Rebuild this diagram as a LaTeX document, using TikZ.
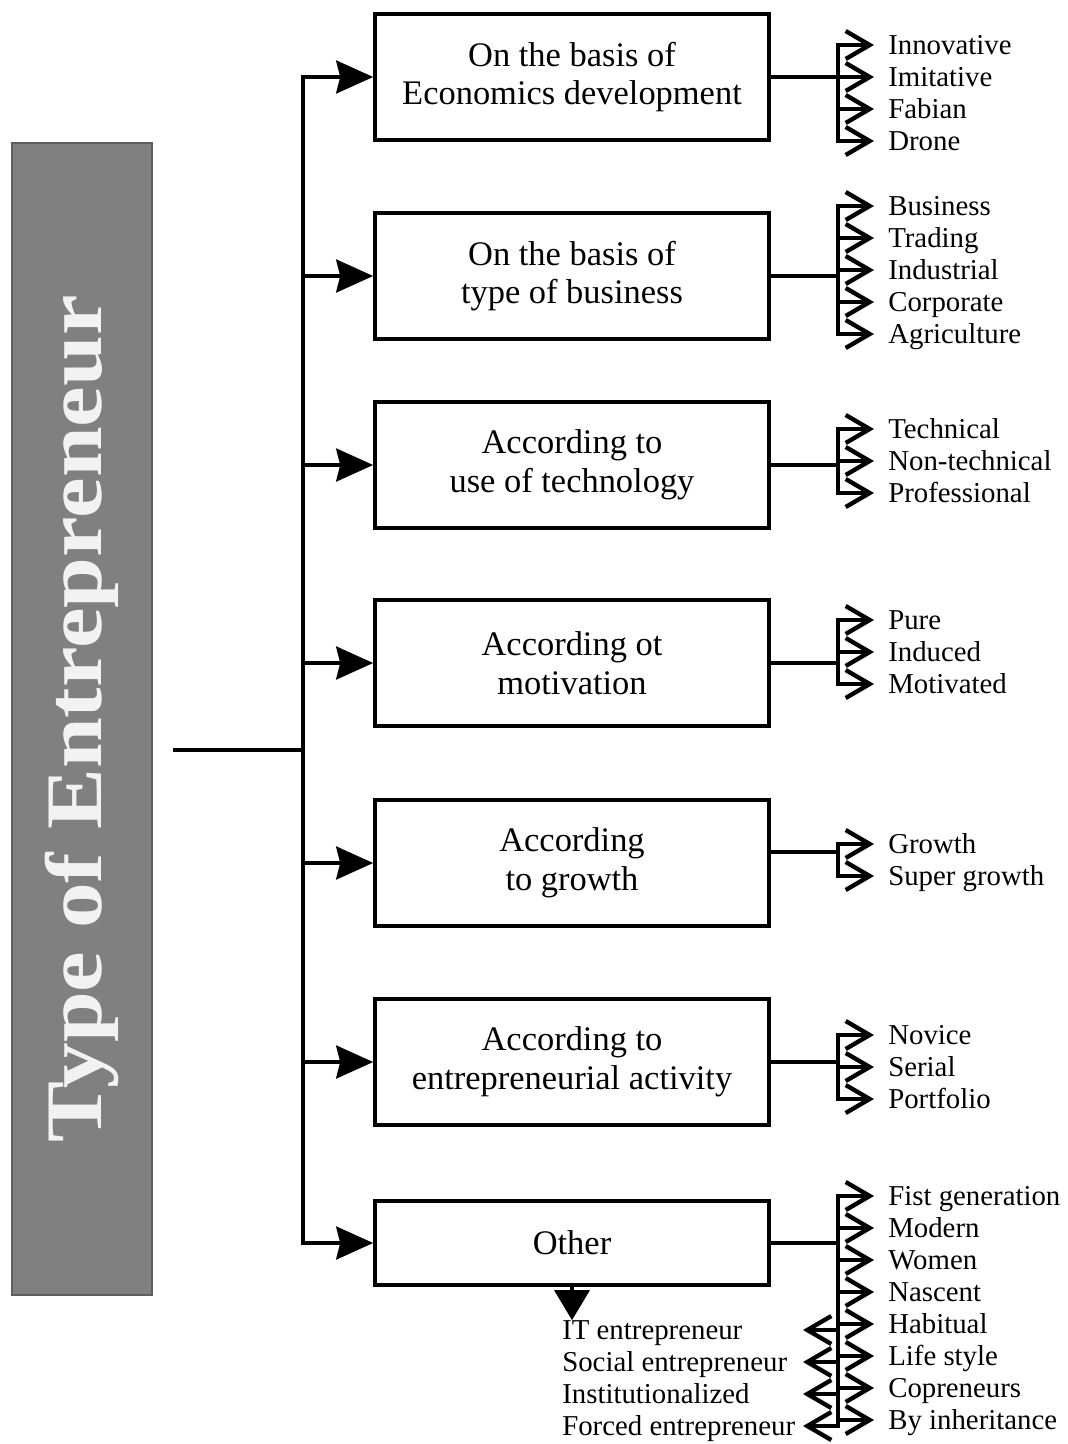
\documentclass[tikz,border=0pt]{standalone}
\usepackage{fontspec}
\setmainfont{Liberation Serif}
\usetikzlibrary{arrows.meta}
\definecolor{panel}{HTML}{808080}
\definecolor{panelrim}{HTML}{5E5E5E}

\begin{document}
\begin{tikzpicture}[x=0.25mm,y=-0.25mm,
  title/.style={rotate=90,fill=panel,draw=panelrim,line width=0.8pt,minimum width=288mm,minimum height=35mm,text=white!95!black,font={\fontsize{57}{60}\selectfont\bfseries\addfontfeature{FakeStretch=1.14}}},
  box/.style={draw,line width=2.6pt,minimum width=98.5mm,minimum height=31.5mm,align=center,font=\fontsize{24.5}{27.5}\selectfont},
  item/.style={anchor=west,inner xsep=3.5mm,inner ysep=0pt,text height=13.6pt,text depth=0pt,font=\fontsize{20.5}{22}\selectfont},
  note/.style={item,inner xsep=0pt},
  link/.style={line width=2.6pt,line cap=rect},
  feed/.style={line width=2.4pt,-{Stealth[length=9.25mm,width=8.25mm,inset=1mm]}},
  branch/.style={line width=3.1pt,-{Straight Barb[length=6mm,width=7mm]}},
  drop/.style={line width=2.4pt,-{Triangle[length=7.5mm,width=8.75mm]}}]
\useasboundingbox (0,0) rectangle (1068,1444);

\node[title] (title) at (82,719) {Type of Entrepreneur};

% category boxes
\node[box] (b1) at (572,77) {On the basis of\\Economics development};
\node[box] (b2) at (572,276) {On the basis of\\type of business};
\node[box] (b3) at (572,465) {According to\\use of technology};
\node[box] (b4) at (572,663) {According ot\\motivation};
\node[box] (b5) at (572,863) {According\\to growth};
\node[box] (b6) at (572,1062) {According to\\entrepreneurial activity};
\node[box,minimum height=21mm] (b7) at (572,1243) {Other};

% trunk
\coordinate (root) at (173,750);
\coordinate (fork) at (303,750);
\draw[line width=3.4pt] (root) -- (fork);
\draw[link] (fork |- b1.west) -- (fork |- b7.west);
\foreach \b in {b1,b2,b3,b4,b5,b6,b7}
  \draw[feed] (fork |- \b.west) -- (\b.west);

% items
\coordinate (bar) at (838,0);
\coordinate (ltip) at (803,0);
\node[item] (dev1) at (874,45) {Innovative};
\node[item] (dev2) at (874,77) {Imitative};
\node[item] (dev3) at (874,109) {Fabian};
\node[item] (dev4) at (874,141) {Drone};
\node[item] (biz1) at (874,206) {Business};
\node[item] (biz2) at (874,238) {Trading};
\node[item] (biz3) at (874,270) {Industrial};
\node[item] (biz4) at (874,302) {Corporate};
\node[item] (biz5) at (874,334) {Agriculture};
\node[item] (tec1) at (874,429) {Technical};
\node[item] (tec2) at (874,461) {Non-technical};
\node[item] (tec3) at (874,493) {Professional};
\node[item] (mot1) at (874,620) {Pure};
\node[item] (mot2) at (874,652) {Induced};
\node[item] (mot3) at (874,684) {Motivated};
\node[item] (gro1) at (874,844) {Growth};
\node[item] (gro2) at (874,876) {Super growth};
\node[item] (act1) at (874,1035) {Novice};
\node[item] (act2) at (874,1067) {Serial};
\node[item] (act3) at (874,1099) {Portfolio};
\node[item] (oth1) at (874,1196) {Fist generation};
\node[item] (oth2) at (874,1228) {Modern};
\node[item] (oth3) at (874,1260) {Women};
\node[item] (oth4) at (874,1292) {Nascent};
\node[item] (oth5) at (874,1324) {Habitual};
\node[item] (oth6) at (874,1356) {Life style};
\node[item] (oth7) at (874,1388) {Copreneurs};
\node[item] (oth8) at (874,1420) {By inheritance};
\node[note] (lft1) at (562,1330) {IT entrepreneur};
\node[note] (lft2) at (562,1362) {Social entrepreneur};
\node[note] (lft3) at (562,1394) {Institutionalized};
\node[note] (lft4) at (562,1426) {Forced entrepreneur};

% links to the items
\draw[link] (b1.east) -- (b1.east -| bar);
\draw[link] (dev1.west -| bar) -- (dev4.west -| bar);
\foreach \i in {dev1,dev2,dev3,dev4}
  \draw[branch] (\i.west -| bar) -- (\i.west);
\draw[link] (b2.east) -- (b2.east -| bar);
\draw[link] (biz1.west -| bar) -- (biz5.west -| bar);
\foreach \i in {biz1,biz2,biz3,biz4,biz5}
  \draw[branch] (\i.west -| bar) -- (\i.west);
\draw[link] (b3.east) -- (b3.east -| bar);
\draw[link] (tec1.west -| bar) -- (tec3.west -| bar);
\foreach \i in {tec1,tec2,tec3}
  \draw[branch] (\i.west -| bar) -- (\i.west);
\draw[link] (b4.east) -- (b4.east -| bar);
\draw[link] (mot1.west -| bar) -- (mot3.west -| bar);
\foreach \i in {mot1,mot2,mot3}
  \draw[branch] (\i.west -| bar) -- (\i.west);
\draw[link] ([yshift=2.75mm]b5.east) -- ([yshift=2.75mm]b5.east -| bar);
\draw[link] (gro1.west -| bar) -- (gro2.west -| bar);
\foreach \i in {gro1,gro2}
  \draw[branch] (\i.west -| bar) -- (\i.west);
\draw[link] (b6.east) -- (b6.east -| bar);
\draw[link] (act1.west -| bar) -- (act3.west -| bar);
\foreach \i in {act1,act2,act3}
  \draw[branch] (\i.west -| bar) -- (\i.west);
\draw[link] (b7.east) -- (b7.east -| bar);
\draw[link] (oth1.west -| bar) -- (lft4.west -| bar);
\foreach \i in {oth1,oth2,oth3,oth4,oth5,oth6,oth7,oth8}
  \draw[branch] (\i.west -| bar) -- (\i.west);
\foreach \i in {lft1,lft2,lft3,lft4}
  \draw[branch] (\i.west -| bar) -- (\i.west -| ltip);
\draw[drop] (b7.south) -- (b7.south |- lft1.north);
\end{tikzpicture}
\end{document}
